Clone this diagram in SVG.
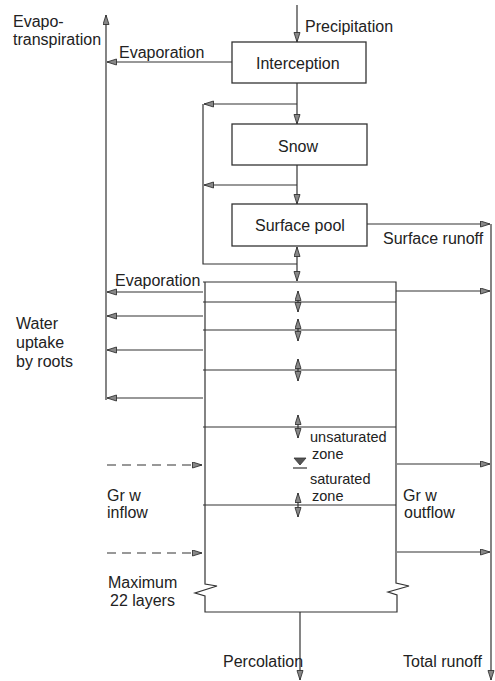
<svg xmlns="http://www.w3.org/2000/svg" width="495" height="681" viewBox="0 0 495 681">
<defs>
<marker id="ah" markerUnits="userSpaceOnUse" markerWidth="11" markerHeight="8" refX="10" refY="3.5" orient="auto-start-reverse">
<path d="M0.5,0.5 L10,3.5 L0.5,6.5 Z" fill="#888" stroke="#333" stroke-width="0.9"/>
</marker>
</defs>
<style>
text{font-family:"Liberation Sans",Arial,sans-serif;font-size:16px;fill:#222}
.zn{font-size:14.5px}
.ln{fill:none;stroke:#333;stroke-width:1.2}
.box{fill:#fff;stroke:#333;stroke-width:1.3}
.ar{fill:none;stroke:#333;stroke-width:1.2;marker-end:url(#ah)}
.dar{fill:none;stroke:#333;stroke-width:1.2;marker-end:url(#ah);marker-start:url(#ah)}
.dash{stroke-dasharray:9,6}
</style>
<rect width="495" height="681" fill="#fff"/>
<g id="connectors">
<path class="ar" d="M106,400 V15"/>
<path class="ar" d="M297,5 V42"/>
<path class="ar" d="M232,62 H107"/>
<path class="ar" d="M297,83 V124"/>
<path class="ar" d="M297,104 H204"/>
<path class="ln" d="M203,104 V264 H297"/>
<path class="ar" d="M297,165 V204"/>
<path class="ar" d="M297,185 H204"/>
<path class="dar" d="M297,247 V281"/>
<path class="ar" d="M367,224 H490"/>
<path class="ar" d="M491,224 V680"/>
<path class="ar" d="M396,291 H490"/>
<path class="ar" d="M397,464 H490"/>
<path class="ar" d="M397,552 H490"/>
<path class="ar" d="M203,292 H107"/>
<path class="ar" d="M203,316 H107"/>
<path class="ar" d="M203,350 H107"/>
<path class="ar" d="M203,398 H107"/>
<path class="ar dash" d="M107,465 H202"/>
<path class="ar dash" d="M107,553 H202"/>
<path class="dar" d="M298,291 V312"/>
<path class="dar" d="M298,319 V341"/>
<path class="dar" d="M298,359 V381"/>
<path class="dar" d="M298,415 V438"/>
<path class="dar" d="M298,493 V517"/>
<path class="ar" d="M300,612 V680"/>
</g>
<g id="interception">
<rect class="box" x="232" y="42" width="134" height="41"/>
<text x="256" y="69">Interception</text>
</g>
<g id="snow">
<rect class="box" x="232" y="124" width="135" height="41"/>
<text x="278" y="152">Snow</text>
</g>
<g id="surface-pool">
<rect class="box" x="232" y="204" width="135" height="42"/>
<text x="255" y="231">Surface pool</text>
</g>
<g id="soil-column">
<path class="ln" d="M203,282 H396 V583 L409,586 L388,592 L397,595 V612 H205 V596 L195,593 L217,586 L205,584 V282"/>
<path class="ln" d="M203,302 H396 M203,330 H396 M203,370 H396 M203,427 H396 M203,505 H396"/>
<path d="M294,458 H306 L300,465 Z" fill="#555" stroke="#333" stroke-width="0.8"/>
<path class="ln" d="M293,468 H307"/>
<text class="zn" x="310" y="442">unsaturated</text>
<text class="zn" x="312" y="459">zone</text>
<text class="zn" x="310" y="484">saturated</text>
<text class="zn" x="312" y="501">zone</text>
<text x="403" y="501">Gr w</text>
<text x="404" y="518">outflow</text>
</g>
<g id="labels">
<text x="13" y="27">Evapo-</text>
<text x="13" y="45">transpiration</text>
<text x="119" y="58">Evaporation</text>
<text x="305" y="32">Precipitation</text>
<text x="383" y="244">Surface runoff</text>
<text x="115" y="286">Evaporation</text>
<text x="16" y="329">Water</text>
<text x="16" y="348">uptake</text>
<text x="16" y="367">by roots</text>
<text x="107" y="501">Gr w</text>
<text x="107" y="518">inflow</text>
<text x="108" y="588">Maximum</text>
<text x="110" y="606">22 layers</text>
<text x="223" y="667">Percolation</text>
<text x="403" y="667">Total runoff</text>
</g>
</svg>
